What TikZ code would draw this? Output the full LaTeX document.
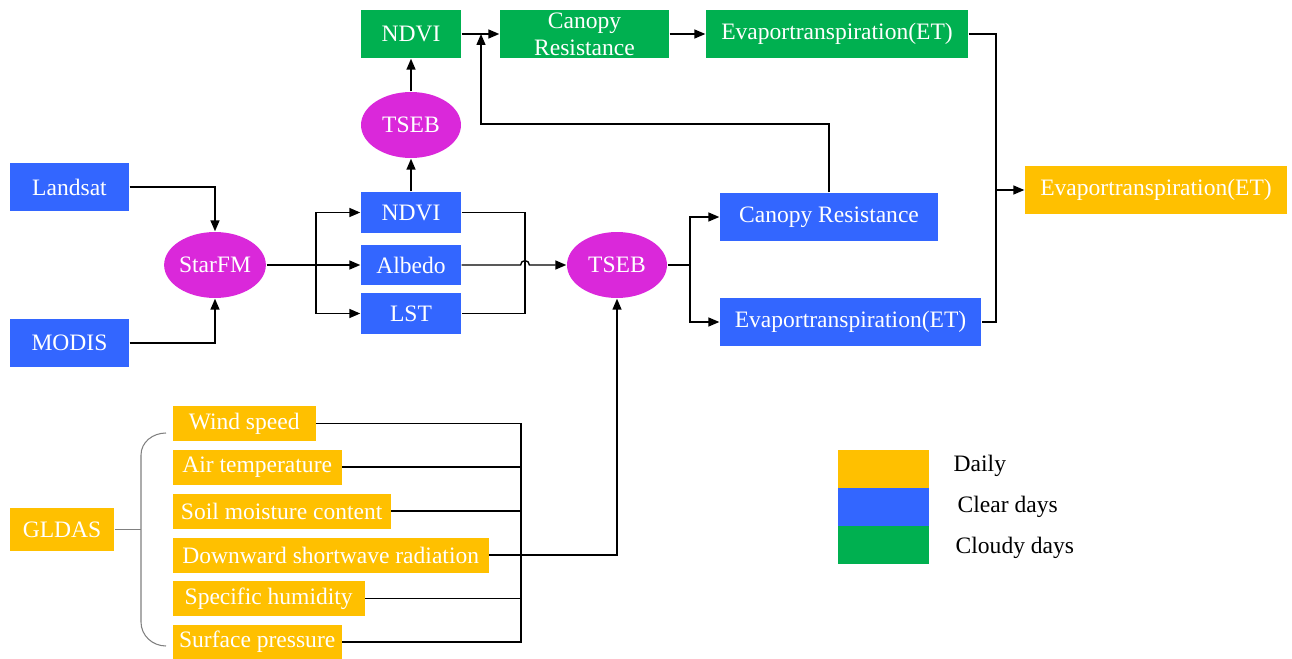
\documentclass[tikz,border=0pt]{standalone}
\usepackage{fontspec}
\setmainfont{Liberation Serif}
\usetikzlibrary{arrows.meta,shapes.geometric}
\definecolor{clearblue}{RGB}{51,102,255}
\definecolor{cloudygreen}{RGB}{0,176,80}
\definecolor{dailyyellow}{RGB}{255,192,0}
\definecolor{modelpink}{RGB}{218,40,218}
\tikzstyle{arrow} = [->,>={Triangle[length=2.2mm,width=1.8mm]}]
\tikzset{box/.style={rectangle,inner sep=0pt,text=white,align=center,font=\fontsize{13.4}{15.3}\selectfont},
clear/.style={box,fill=clearblue},
cloudy/.style={box,fill=cloudygreen},
daily/.style={box,fill=dailyyellow},
model/.style={ellipse,inner sep=0pt,fill=modelpink,text=white,minimum width=2cm,minimum height=1.32cm,font=\fontsize{13.4}{15.3}\selectfont},
legendtext/.style={anchor=west,inner sep=0pt,font=\fontsize{13.4}{15.3}\selectfont}}

\begin{document}
\begin{tikzpicture}[x=0.02cm,y=-0.02cm,line width=0.8pt]
    \useasboundingbox (0,0) rectangle (1292,659);

    % satellite inputs
    \node [clear, minimum width=2.38cm, minimum height=0.96cm] (landsat) at (69.5,187) {Landsat};
    \node [clear, minimum width=2.38cm, minimum height=0.96cm] (modis) at (69.5,343) {MODIS};
    \node [model] (starfm) at (215,265) {StarFM};

    \node [clear, minimum width=2cm, minimum height=0.82cm] (ndviB) at (411,212.5) {NDVI};
    \node [clear, minimum width=2cm, minimum height=0.82cm] (albedo) at (411,265) {Albedo};
    \node [clear, minimum width=2cm, minimum height=0.82cm] (lst) at (411,313.5) {LST};

    % cloudy branch
    \node [model] (tsebA) at (411,125) {TSEB};
    \node [cloudy, minimum width=2cm, minimum height=0.96cm] (ndviA) at (411,34) {NDVI};
    \node [cloudy, minimum width=3.38cm, minimum height=0.96cm] (canopyA) at (584.5,34) {Canopy\\Resistance};
    \node [cloudy, minimum width=5.24cm, minimum height=0.96cm] (etA) at (837,34) {Evaportranspiration(ET)};

    % clear branch
    \node [model] (tsebB) at (617,265) {TSEB};
    \node [clear, minimum width=4.36cm, minimum height=0.96cm] (canopyB) at (829,217) {Canopy Resistance};
    \node [clear, minimum width=5.22cm, minimum height=0.96cm] (etB) at (850.5,322) {Evaportranspiration(ET)};

    \node [daily, minimum width=5.24cm, minimum height=0.96cm] (etC) at (1156,190) {Evaportranspiration(ET)};

    % GLDAS forcing
    \node [daily, minimum width=2.08cm, minimum height=0.86cm] (gldas) at (62,529.5) {GLDAS};
    \node [daily, anchor=west, minimum width=2.86cm, minimum height=0.7cm] (wind) at (172,423.5) {Wind speed};
    \node [daily, anchor=west, minimum width=3.38cm, minimum height=0.7cm] (airtemp) at (172,467) {Air temperature};
    \node [daily, anchor=west, minimum width=4.36cm, minimum height=0.7cm] (soil) at (172,511) {Soil moisture content};
    \node [daily, anchor=west, minimum width=6.32cm, minimum height=0.7cm] (dsr) at (172,555) {Downward shortwave radiation};
    \node [daily, anchor=west, minimum width=3.84cm, minimum height=0.7cm] (humid) at (172,598.5) {Specific humidity};
    \node [daily, anchor=west, minimum width=3.38cm, minimum height=0.7cm] (press) at (172,642) {Surface pressure};

    % legend
    \node [daily, minimum width=1.82cm, minimum height=0.76cm] (keyDaily) at (883.5,469) {};
    \node [clear, minimum width=1.82cm, minimum height=0.76cm] (keyClear) at (883.5,507) {};
    \node [cloudy, minimum width=1.82cm, minimum height=0.76cm] (keyCloudy) at (883.5,545) {};
    \node [legendtext] (keyDailyText) at (953,466) {Daily};
    \node [legendtext] (keyClearText) at (957,507) {Clear days};
    \node [legendtext] (keyCloudyText) at (955,548) {Cloudy days};

    \coordinate (splitA) at (316,265);
    \coordinate (joinA) at (525,265);
    \coordinate (loopA) at (481,124);
    \coordinate (splitB) at (690,265);
    \coordinate (joinB) at (996,190);
    \coordinate (busA) at (521,555);
    \coordinate (braceA) at (141,529.5);

    \draw [arrow] (landsat.east) -| (starfm.north);
    \draw [arrow] (modis.east) -| (starfm.south);
    \draw [arrow] (starfm.east) -- (albedo.west);
    \draw [arrow] (splitA) |- (ndviB.west);
    \draw [arrow] (splitA) |- (lst.west);
    \draw (ndviB.east) -| (joinA) |- (lst.east);
    \draw [arrow] (albedo.east) -- ([xshift=-2.5pt]joinA) arc[start angle=180, end angle=0, radius=2.5pt] -- (tsebB.west);

    \draw [arrow] (ndviB.north) -- (tsebA.south);
    \draw [arrow] (tsebA.north) -- (ndviA.south);
    \draw [arrow] (ndviA.east) -- (canopyA.west);
    \draw [arrow] (canopyA.east) -- (etA.west);
    \draw [arrow] (canopyB.north) |- (loopA) -- (ndviA.east -| loopA);

    \draw (tsebB.east) -- (splitB);
    \draw [arrow] (splitB) |- (canopyB.west);
    \draw [arrow] (splitB) |- (etB.west);
    \draw (etA.east) -| (joinB) |- (etB.east);
    \draw [arrow] (joinB) -- (etC.west);

    \foreach \v in {wind,airtemp,soil,humid,press}
        \draw (\v.east) -| (busA);
    \draw [arrow] (dsr.east) -| (tsebB.south);

    % brace
    \draw [gray, line width=0.6pt] (gldas.east) -- (braceA);
    \draw [gray, line width=0.6pt] (166,433) to[out=180, in=90] (141,455) -- (141,622) to[out=-90, in=180] (166,646);
\end{tikzpicture}
\end{document}
